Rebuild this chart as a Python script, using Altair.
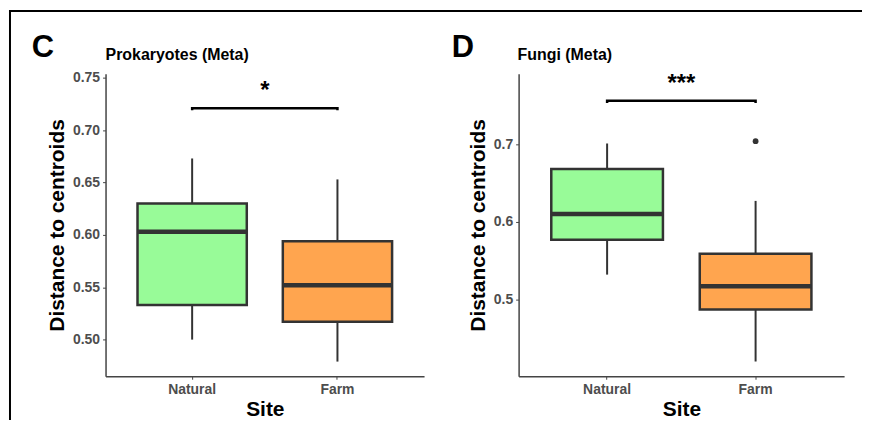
import altair as alt
import pandas as pd

sites = ["Natural", "Farm"]
colors = ["#98FB98", "#FFA54F"]

# Prokaryotes (Meta)
prok_low = [0.500, 0.479]
prok_q1 = [0.533, 0.517]
prok_med = [0.603, 0.552]
prok_q3 = [0.630, 0.594]
prok_high = [0.673, 0.653]
prok_out_site = []
prok_out_val = []
prok_bracket = 0.721
prok_sig = "*"
prok_ticks = [0.50, 0.55, 0.60, 0.65, 0.70, 0.75]
prok_domain = [0.465, 0.754]

# Fungi (Meta)
fungi_low = [0.532, 0.420]
fungi_q1 = [0.577, 0.487]
fungi_med = [0.610, 0.517]
fungi_q3 = [0.668, 0.559]
fungi_high = [0.701, 0.627]
fungi_out_site = ["Farm"]
fungi_out_val = [0.704]
fungi_bracket = 0.756
fungi_sig = "***"
fungi_ticks = [0.5, 0.6, 0.7]
fungi_domain = [0.401, 0.791]

FONT = "Liberation Sans"
DARK = "#333333"


def panel(letter, title, low, q1, med, q3, high, out_site, out_val, bracket,
          sig, ticks, domain, fmt, width, height, letter_x, title_x,
          border_left, top_x1, top_x2, tick_drop):
    df = pd.DataFrame({"Site": sites, "low": low, "q1": q1, "med": med,
                       "q3": q3, "high": high})
    xenc = alt.X("Site:N", sort=sites,
                 scale=alt.Scale(domain=sites, paddingInner=0.248, paddingOuter=0.22),
                 axis=alt.Axis(title="Site", labelAngle=0))
    yscale = alt.Scale(domain=domain, nice=False, zero=False)
    yaxis = alt.Axis(title="Distance to centroids", values=ticks, format=fmt,
                     grid=False)
    base = alt.Chart(df)
    whisk = base.mark_rule(color=DARK, strokeWidth=2).encode(
        x=xenc, y=alt.Y("low:Q", scale=yscale, axis=yaxis), y2="high:Q")
    box = base.mark_bar(stroke=DARK, strokeWidth=2.5).encode(
        x=xenc, y=alt.Y("q1:Q", scale=yscale), y2="q3:Q",
        color=alt.Color("Site:N", scale=alt.Scale(domain=sites, range=colors),
                        legend=None))
    bw = width * 0.752 / (2 - 0.248 + 2 * 0.22)
    medm = base.mark_tick(color=DARK, thickness=4.5, size=bw, opacity=1).encode(
        x=xenc, y=alt.Y("med:Q", scale=yscale))
    layers = [whisk, box, medm]
    if out_site:
        odf = pd.DataFrame({"Site": out_site, "v": out_val})
        layers.append(alt.Chart(odf).mark_point(filled=True, color=DARK, size=34,
                                                opacity=1).encode(
            x=xenc, y=alt.Y("v:Q", scale=yscale)))
    bdf = pd.DataFrame({"Site": [sites[0], sites[0], sites[1], sites[1]],
                        "v": [bracket - tick_drop, bracket, bracket, bracket - tick_drop],
                        "o": [0, 1, 2, 3]})
    layers.append(alt.Chart(bdf).mark_line(color="black", strokeWidth=2.5).encode(
        x=xenc, y=alt.Y("v:Q", scale=yscale), order="o:Q"))
    sdf = pd.DataFrame({"t": [sig], "v": [bracket]})
    layers.append(alt.Chart(sdf).mark_text(font=FONT, fontWeight="bold", fontSize=24,
                                           dy=-10, baseline="alphabetic").encode(
        x=alt.value(width / 2), y=alt.Y("v:Q", scale=yscale), text="t:N"))
    ddf = pd.DataFrame({"letter": [letter], "title": [title]})
    layers.append(alt.Chart(ddf).mark_text(font=FONT, fontWeight="bold", fontSize=31,
                                           align="center", baseline="alphabetic").encode(
        x=alt.value(letter_x), y=alt.value(-17), text="letter:N"))
    layers.append(alt.Chart(ddf).mark_text(font=FONT, fontWeight="bold", fontSize=16,
                                           align="left", baseline="alphabetic").encode(
        x=alt.value(title_x), y=alt.value(-14), text="title:N"))
    # figure frame
    layers.append(alt.Chart(ddf).mark_rule(color="black", strokeWidth=2).encode(
        x=alt.value(top_x1), x2=alt.value(top_x2), y=alt.value(-63)))
    if border_left is not None:
        layers.append(alt.Chart(ddf).mark_rule(color="black", strokeWidth=2).encode(
            x=alt.value(border_left), y=alt.value(-64), y2=alt.value(348)))
    return alt.layer(*layers).properties(width=width, height=height)


left = panel("C", "Prokaryotes (Meta)", prok_low, prok_q1, prok_med, prok_q3,
             prok_high, prok_out_site, prok_out_val, prok_bracket, prok_sig,
             prok_ticks, prok_domain, ".2f", 320, 304, -63, 0, -96, -97, 340, 0.002)
right = panel("D", "Fungi (Meta)", fungi_low, fungi_q1, fungi_med, fungi_q3,
              fungi_high, fungi_out_site, fungi_out_val, fungi_bracket, fungi_sig,
              fungi_ticks, fungi_domain, ".1f", 327, 304, -56, -1, None, -76, 345, 0.0028)

chart = alt.hconcat(left, right, spacing=-3).properties(padding=0).configure_view(
    stroke=None
).configure_axis(
    labelFont=FONT, labelFontWeight="bold", labelFontSize=14, labelColor="#4d4d4d",
    titleFont=FONT, titleFontWeight="bold", titleFontSize=21, titleColor="black",
    domainColor="#444444", domainWidth=1.5, tickColor="#444444", tickSize=3,
    tickWidth=1, labelPadding=3, titlePadding=5,
).configure_axisX(titlePadding=2, labelPadding=3)

chart.save("out.html", embed_options={"renderer": "svg", "actions": False})
